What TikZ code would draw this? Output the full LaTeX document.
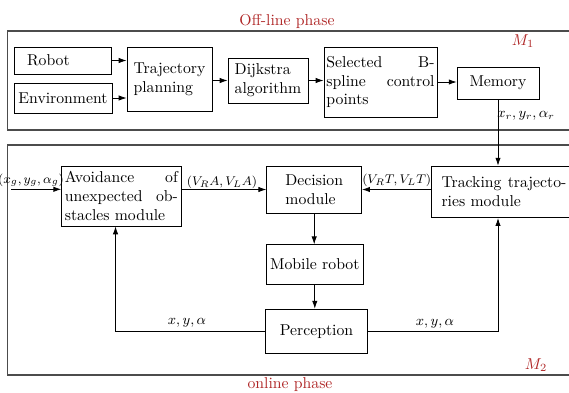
\documentclass[tikz,border=0pt]{standalone}
\usetikzlibrary{arrows.meta}
\definecolor{phasered}{RGB}{175,38,38}
\begin{document}
\begin{tikzpicture}[x=0.635pt,y=-0.635pt,
  blk/.style={draw=black,line width=0.5pt,rectangle,inner sep=1.5pt,align=left},
  frame/.style={draw=black!70,line width=0.8pt},
  arr/.style={-{Latex[length=5pt,width=3.4pt]},line width=0.5pt},
  ln/.style={line width=0.5pt},
  lbl/.style={inner sep=0pt},
  red/.style={text=phasered,inner sep=0pt}]
\clip (0,0) rectangle (569,392);
% frames
\draw[frame] (600,31) -- (7.3,31) -- (7.3,130) -- (600,130);
\draw[frame] (600,145) -- (7.3,145) -- (7.3,375) -- (600,375);
\node[red] (offl) at (287,21) {Off-line phase};
\node[red] (onl) at (290,385) {online phase};
\node[red] (m1) at (523,41) {$M_1$};
\node[red] (m2) at (536,365) {$M_2$};
% off-line blocks
\node[blk,minimum width=61.6pt,minimum height=17.1pt,inner xsep=8.3pt,text width=45pt] (robot) at (62.5,60.5) {Robot};
\node[blk,minimum width=62.2pt,minimum height=19pt] (env) at (63,98) {Environment};
\node[blk,minimum width=54pt,minimum height=40.6pt] (traj) at (169.5,79) {Trajectory\\planning};
\node[blk,minimum width=50.8pt,minimum height=28.6pt] (dijk) at (268,80.5) {Dijkstra\\algorithm};
\node[blk,minimum width=71.8pt,minimum height=44.5pt,inner xsep=1.6pt,text width=68.6pt] (sel) at (380.5,82) {Selected\hfill B-\\spline\hfill control\\points};
\node[blk,minimum width=52pt,minimum height=20.3pt,align=center] (mem) at (498,83) {Memory};
% online blocks
\node[blk,minimum width=75.8pt,minimum height=38.1pt,inner xsep=2pt,text width=71.8pt] (avoid) at (121.35,196) {Avoidance\hfill of\\unexpected\hfill ob-\\stacles module};
\node[blk,minimum width=60.3pt,minimum height=29.8pt] (dec) at (314.2,189.5) {Decision\\module};
\node[blk,minimum width=92.7pt,minimum height=32.8pt,inner xsep=6.7pt,text width=79.3pt] (track) at (504,191.85) {Tracking\hfill trajecto-\\ries module};
\node[blk,minimum width=61.2pt,minimum height=25pt,align=center] (mob) at (314.8,264.4) {Mobile robot};
\node[blk,minimum width=64.5pt,minimum height=28.1pt,align=center] (perc) at (316.5,331.2) {Perception};
% off-line connectors
\draw[arr] (robot.east) -- (robot.east -| traj.west);
\draw[arr] (env.east) -- (env.east -| traj.west);
\draw[arr] (traj.east |- dijk.west) -- (dijk.west);
\draw[arr] (dijk.east) -- (dijk.east -| sel.west);
\draw[arr] (sel.east) -- (sel.east -| mem.west);
\draw[arr] (mem.south) -- (mem.south |- track.north);
\node[lbl] (xr) at (526,116) {\small$x_r,y_r,\alpha_r$};
% online connectors
\coordinate (gin) at (11,189.3);
\draw[arr] (gin) -- (gin -| avoid.west);
\node[lbl] (xg) at (31,180) {\footnotesize$(x_g,y_g,\alpha_g)$};
\draw[arr] (dec.west -| avoid.east) -- (dec.west);
\node[lbl] (va) at (222,182) {\footnotesize$(V_RA,V_LA)$};
\draw[arr] (dec.east -| track.west) -- (dec.east);
\node[lbl] (vt) at (396.7,180) {\footnotesize$(V_RT,V_LT)$};
\draw[arr] (dec.south) -- (dec.south |- mob.north);
\draw[arr] (mob.south) -- (mob.south |- perc.north);
\draw[arr] (perc.west) -| ([xshift=-3.7pt]avoid.south);
\draw[arr] (perc.east) -| (mem.south |- track.south);
\node[lbl] (xl) at (187,323) {\small$x,y,\alpha$};
\node[lbl] (xrt) at (435,324) {\small$x,y,\alpha$};
\end{tikzpicture}
\end{document}
